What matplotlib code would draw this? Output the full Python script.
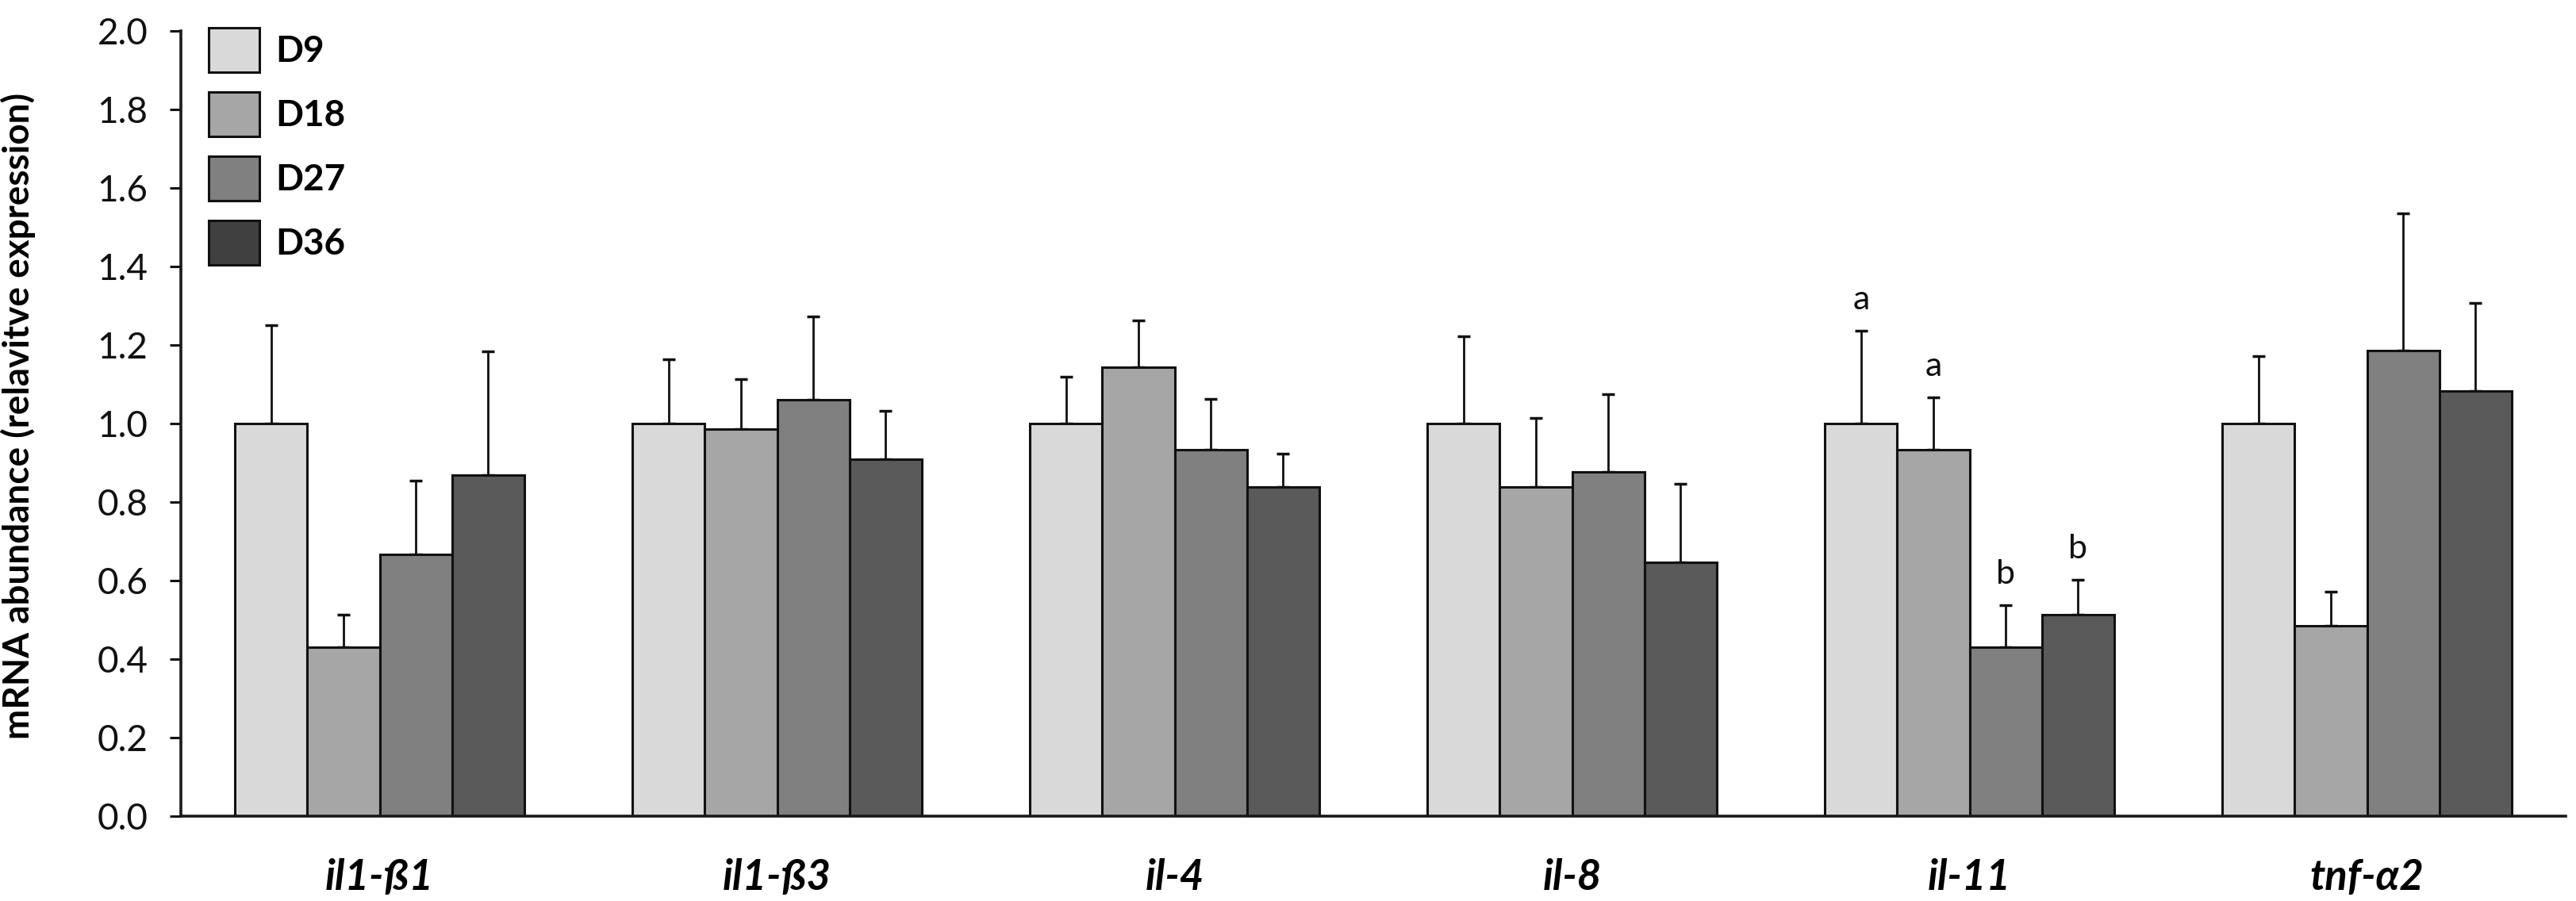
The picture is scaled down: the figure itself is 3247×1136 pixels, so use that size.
import matplotlib
matplotlib.use("Agg")
import matplotlib.pyplot as plt
from matplotlib.patches import Patch
import numpy as np

plt.rcParams['font.family'] = ['Lato', 'DejaVu Sans']

genes = ["il1-ß1", "il1-ß3", "il-4", "il-8", "il-11", "tnf-α2"]
days = ["D9", "D18", "D27", "D36"]
means = {
    "D9":  [1.00, 1.00, 1.00, 1.00, 1.00, 1.00],
    "D18": [0.43, 0.985, 1.144, 0.838, 0.934, 0.485],
    "D27": [0.667, 1.06, 0.934, 0.877, 0.431, 1.185],
    "D36": [0.869, 0.91, 0.838, 0.646, 0.514, 1.083],
}
upper = {
    "D9":  [1.251, 1.164, 1.119, 1.222, 1.236, 1.172],
    "D18": [0.514, 1.114, 1.262, 1.015, 1.067, 0.571],
    "D27": [0.855, 1.273, 1.062, 1.075, 0.537, 1.535],
    "D36": [1.183, 1.032, 0.924, 0.846, 0.602, 1.307],
}
letters_il11 = ["a", "a", "b", "b"]
bar_colors = ["#d9d9d9", "#a6a6a6", "#808080", "#5a5a5a"]
legend_colors = ["#d9d9d9", "#a6a6a6", "#808080", "#404040"]

W, H = 3247, 1136
fig = plt.figure(figsize=(W / 100, H / 100), dpi=100)
ax = fig.add_axes([228 / W, 1 - 1029 / H, (3234 - 228) / W, (1029 - 39) / H])

x = np.arange(len(genes))
bw = 1 / 5.5
for i, d in enumerate(days):
    pos = x + (i - 1.5) * bw
    m = np.array(means[d])
    err = np.array(upper[d]) - m
    ax.bar(pos, m, width=bw, color=bar_colors[i], edgecolor="#111111",
           linewidth=2.2, zorder=2)
    ax.errorbar(pos, m, yerr=[np.zeros_like(err), err], fmt="none",
                ecolor="#111111", elinewidth=2.0, capsize=6, capthick=2.5, zorder=1)

# significance letters for il-11
gi = genes.index("il-11")
for i, d in enumerate(days):
    ax.text(gi + (i - 1.5) * bw, upper[d][gi] + 0.055, letters_il11[i],
            ha="center", va="baseline", fontsize=31, color="#111111")

ax.set_xlim(-0.5, 5.5)
ax.set_ylim(0, 2.0)
ax.set_yticks(np.arange(0, 2.01, 0.2))
ax.set_yticklabels([f"{v:.1f}" for v in np.arange(0, 2.01, 0.2)], fontsize=33)
ax.set_xticks(x)
ax.set_xticklabels(genes, fontsize=38, fontweight="bold", fontstyle="italic")
ax.tick_params(axis="x", length=0, pad=38)
ax.tick_params(axis="y", direction="out", length=10, width=2.2, pad=20, colors="#111111")
for s in ["top", "right"]:
    ax.spines[s].set_visible(False)
for s in ["left", "bottom"]:
    ax.spines[s].set_linewidth(2.6)
    ax.spines[s].set_color("#1a1a1a")

ax.set_ylabel("mRNA abundance (relavitve expression)", fontsize=33,
              fontweight="bold")
ax.yaxis.set_label_coords(-0.061, 0.51)

handles = [Patch(facecolor=c, edgecolor="#111111", linewidth=2.2) for c in legend_colors]
fig.legend(handles, days, loc="upper left", bbox_to_anchor=(240 / W, 1 - 12 / H),
           frameon=False, borderpad=0, handlelength=1.39, handleheight=1.5,
           labelspacing=0.55, handletextpad=0.45,
           prop={"size": 33, "weight": "bold"})

fig.savefig("out.png", dpi=100)
